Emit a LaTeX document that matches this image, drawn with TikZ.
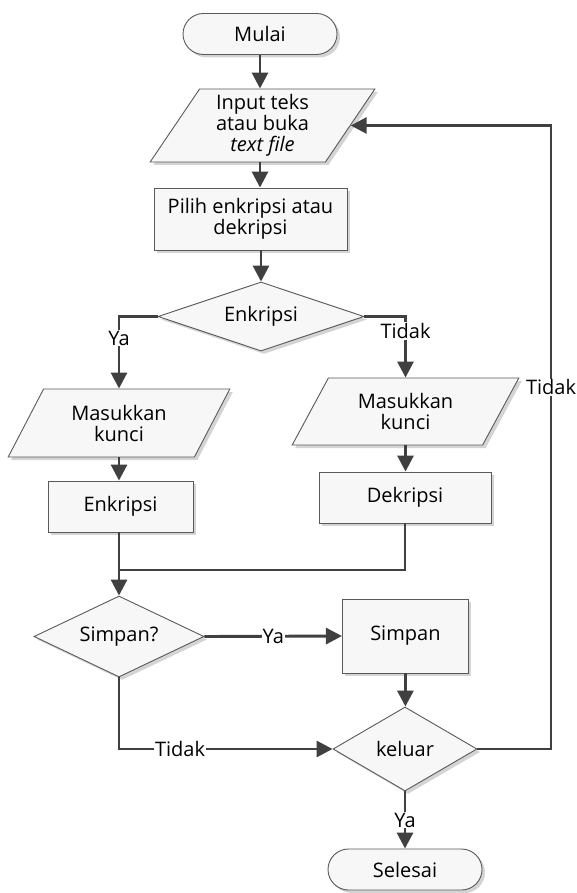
\documentclass[tikz,border=0pt]{standalone}
\usepackage{fontspec}
\setmainfont{Open Sans}
\usetikzlibrary{shapes.geometric,shapes.misc,arrows.meta,shadows}
\definecolor{linec}{HTML}{404040}
\definecolor{bordc}{HTML}{5A5A5A}
\definecolor{fillc}{HTML}{F7F7F7}
\definecolor{shadc}{HTML}{D4D4D4}
\begin{document}
\begin{tikzpicture}[x=1pt,y=-1pt,
  base/.style={draw=bordc, line width=0.9pt, fill=fillc,
    drop shadow={shadow xshift=3pt, shadow yshift=-3pt, fill=shadc, opacity=1},
    align=center, font=\fontsize{20}{21}\selectfont, inner sep=2pt},
  term/.style={base, rounded rectangle, minimum width=158pt, minimum height=41pt},
  proc/.style={base, rectangle},
  io/.style={base, trapezium, trapezium left angle=60, trapezium right angle=120, trapezium stretches=true},
  decision/.style={base, diamond, inner sep=0pt, shape aspect=3},
  arr/.style={draw=linec, line width=2.9pt, -{Triangle[width=16pt,length=16pt]}},
  conn/.style={draw=linec, line width=2.9pt},
  lab/.style={fill=white, inner sep=1pt, font=\fontsize{20}{21}\selectfont}
]
\fill[white] (0,0) rectangle (576,893);
\useasboundingbox (0,0) rectangle (576,893);

\node[term] (mulai) at (260,34) {Mulai};
\node[io, minimum width=225pt, minimum height=73pt] (input) at (262.5,125.5) {Input teks\\atau buka\\\textit{text file}};
\node[proc, minimum width=193pt, minimum height=62pt] (pilih) at (250.5,219) {Pilih enkripsi atau\\dekripsi};
\node[decision, minimum width=206pt, minimum height=69pt] (enk) at (261,316.5) {Enkripsi};
\node[io, minimum width=222pt, minimum height=68pt] (mk1) at (119,423) {Masukkan\\kunci};
\node[io, minimum width=227pt, minimum height=67pt] (mk2) at (405.5,411.5) {Masukkan\\kunci};
\node[proc, minimum width=145pt, minimum height=51pt] (enkbox) at (120.5,506.5) {Enkripsi};
\node[proc, minimum width=172pt, minimum height=51pt] (dekbox) at (405,497.5) {Dekripsi};
\node[decision, minimum width=170pt, minimum height=81pt] (simq) at (119,636.5) {Simpan?};
\node[proc, minimum width=126pt, minimum height=74pt] (simpan) at (405.4,636) {Simpan};
\node[decision, minimum width=144pt, minimum height=84pt] (keluar) at (405,749) {keluar};
\node[term] (selesai) at (405,869.5) {Selesai};
\coordinate (merge) at (119,570);
\coordinate (rx) at (551,749);

\draw[arr] (mulai.south) -- (mulai.south |- input.north);
\draw[arr] (mulai.south |- input.south) -- (mulai.south |- pilih.north);
\draw[arr] (enk.north |- pilih.south) -- (enk.north);
\draw[arr] (enk.west) -| node[lab, pos=0.65]{Ya} (mk1.north);
\draw[arr] (enk.east) -| node[lab, pos=0.62]{Tidak} (mk2.north);
\draw[arr] (mk1.south) -- (mk1.south |- enkbox.north);
\draw[arr] (mk2.south) -- (mk2.south |- dekbox.north);
\draw[conn] (dekbox.south) |- (merge);
\draw[arr] (merge |- enkbox.south) -- (simq.north);
\draw[arr] (simq.east) -- node[lab]{Ya} (simpan.west);
\draw[arr] (simpan.south) -- (simpan.south |- keluar.north);
\draw[arr] (simq.south) |- node[lab, pos=0.643]{Tidak} (keluar.west);
\draw[arr] (keluar.east) -- (rx) -- node[lab, pos=0.58]{Tidak} (rx |- input.east) -- (input.east);
\draw[arr] (keluar.south) -- node[lab]{Ya} (selesai.north);
\end{tikzpicture}
\end{document}
